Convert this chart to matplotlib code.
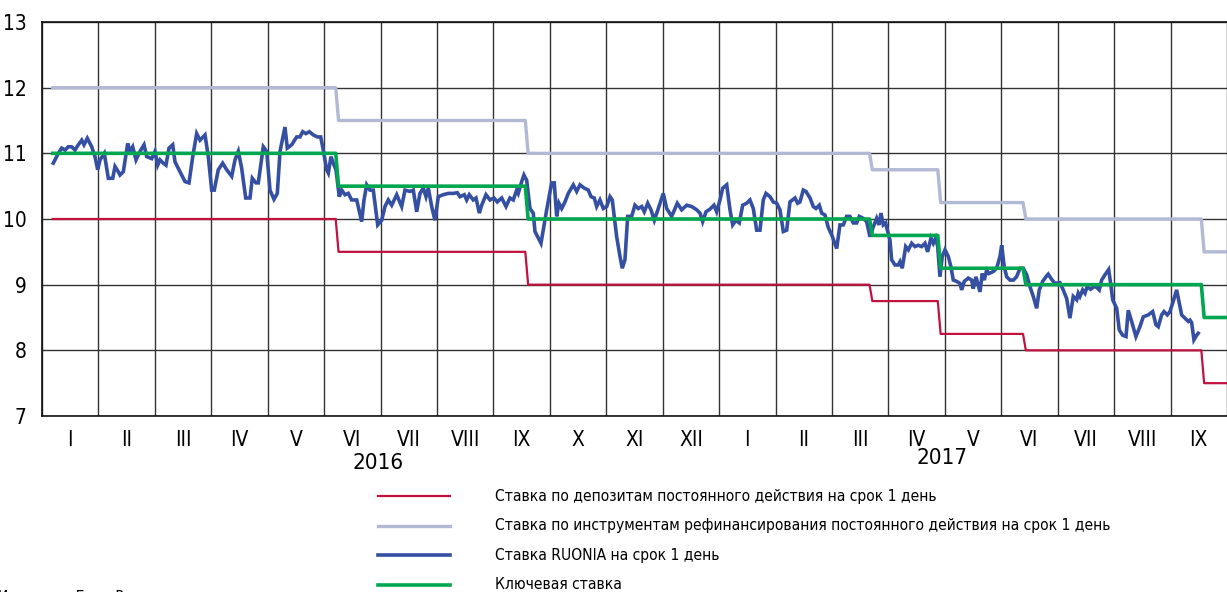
import matplotlib
matplotlib.use('Agg')
import matplotlib.pyplot as plt
from matplotlib.lines import Line2D
import numpy as np

plt.rcParams['font.family'] = ['DejaVu Sans']
plt.rcParams['font.stretch'] = 'condensed'

# x axis: months since 1 Jan 2016 (each month one equal unit)
months = ['I', 'II', 'III', 'IV', 'V', 'VI', 'VII', 'VIII', 'IX', 'X', 'XI', 'XII',
          'I', 'II', 'III', 'IV', 'V', 'VI', 'VII', 'VIII', 'IX']
years = ['2016', '2017']

# policy rate decisions (month position of change) and corridor levels
step_start = 0.19
step_end = 21.0
change_pos = [5.23, 8.59, 14.69, 15.90, 17.41, 20.57]
deposit_rate = [10.0, 9.5, 9.0, 8.75, 8.25, 8.0, 7.5]
refi_rate = [12.0, 11.5, 11.0, 10.75, 10.25, 10.0, 9.5]
key_rate = [11.0, 10.5, 10.0, 9.75, 9.25, 9.0, 8.5]

# RUONIA overnight rate
ruonia_pos = [0.200, 0.289, 0.349, 0.408, 0.466, 0.526, 0.585, 0.643, 0.704, 0.744,
              0.803, 0.881, 0.939, 0.987, 1.028, 1.104, 1.175, 1.253, 1.294, 1.352,
              1.382, 1.441, 1.519, 1.559, 1.607, 1.666, 1.737, 1.808, 1.855, 1.944,
              2.002, 2.050, 2.091, 2.150, 2.197, 2.251, 2.316, 2.357, 2.446, 2.534,
              2.605, 2.671, 2.741, 2.800, 2.889, 2.947, 3.007, 3.053, 3.124, 3.202,
              3.273, 3.362, 3.420, 3.479, 3.539, 3.610, 3.686, 3.727, 3.792, 3.833,
              3.922, 3.982, 4.040, 4.111, 4.170, 4.218, 4.306, 4.347, 4.425, 4.513,
              4.572, 4.620, 4.678, 4.737, 4.808, 4.879, 4.939, 4.985, 5.045, 5.074,
              5.121, 5.162, 5.210, 5.268, 5.311, 5.369, 5.428, 5.488, 5.577, 5.665,
              5.706, 5.754, 5.812, 5.871, 5.949, 6.020, 6.078, 6.137, 6.197, 6.286,
              6.374, 6.433, 6.521, 6.580, 6.640, 6.698, 6.757, 6.805, 6.846, 6.906,
              6.964, 7.023, 7.111, 7.200, 7.289, 7.360, 7.407, 7.484, 7.526, 7.572,
              7.643, 7.691, 7.750, 7.792, 7.868, 7.939, 8.010, 8.068, 8.146, 8.223,
              8.293, 8.352, 8.412, 8.440, 8.501, 8.541, 8.589, 8.648, 8.706, 8.736,
              8.795, 8.843, 8.944, 9.032, 9.078, 9.121, 9.162, 9.210, 9.268, 9.327,
              9.415, 9.475, 9.534, 9.610, 9.681, 9.729, 9.787, 9.830, 9.888, 9.947,
              10.007, 10.066, 10.106, 10.184, 10.243, 10.283, 10.331, 10.379, 10.450, 10.508,
              10.567, 10.627, 10.673, 10.734, 10.792, 10.851, 10.922, 11.010, 11.070, 11.159,
              11.258, 11.336, 11.425, 11.513, 11.602, 11.660, 11.708, 11.767, 11.837, 11.908,
              11.956, 12.015, 12.063, 12.134, 12.192, 12.240, 12.298, 12.357, 12.417, 12.488,
              12.546, 12.605, 12.665, 12.724, 12.782, 12.830, 12.901, 12.959, 13.020, 13.078,
              13.137, 13.197, 13.255, 13.344, 13.392, 13.432, 13.491, 13.539, 13.610, 13.668,
              13.716, 13.775, 13.817, 13.876, 13.934, 13.994, 14.083, 14.141, 14.200, 14.260,
              14.318, 14.377, 14.437, 14.483, 14.554, 14.614, 14.673, 14.731, 14.791, 14.832,
              14.868, 14.909, 14.951, 14.987, 15.027, 15.057, 15.116, 15.174, 15.205, 15.245,
              15.306, 15.352, 15.412, 15.470, 15.529, 15.589, 15.647, 15.695, 15.754, 15.795,
              15.837, 15.873, 15.913, 15.954, 16.002, 16.061, 16.108, 16.149, 16.209, 16.268,
              16.298, 16.344, 16.415, 16.475, 16.504, 16.551, 16.592, 16.622, 16.663, 16.698,
              16.741, 16.782, 16.858, 16.918, 16.977, 17.007, 17.053, 17.096, 17.154, 17.213,
              17.272, 17.331, 17.390, 17.450, 17.508, 17.567, 17.627, 17.673, 17.733, 17.792,
              17.832, 17.893, 17.951, 18.040, 18.098, 18.158, 18.217, 18.275, 18.336, 18.364,
              18.394, 18.442, 18.483, 18.523, 18.584, 18.643, 18.690, 18.736, 18.779, 18.837,
              18.903, 18.938, 18.974, 19.045, 19.091, 19.151, 19.210, 19.250, 19.310, 19.386,
              19.457, 19.516, 19.605, 19.683, 19.741, 19.782, 19.842, 19.883, 19.942, 19.989,
              20.037, 20.108, 20.154, 20.196, 20.255, 20.314, 20.344, 20.374, 20.414, 20.463,
              20.490]
ruonia = [10.85, 11.00, 11.08, 11.05, 11.10, 11.10, 11.05, 11.13, 11.20, 11.13,
          11.23, 11.10, 10.95, 10.75, 10.90, 11.00, 10.62, 10.62, 10.80, 10.72,
          10.67, 10.72, 11.15, 11.03, 11.10, 10.90, 11.03, 11.13, 10.95, 10.92,
          11.03, 10.82, 10.90, 10.85, 10.82, 11.08, 11.13, 10.87, 10.72, 10.57,
          10.55, 10.95, 11.30, 11.20, 11.28, 10.95, 10.44, 10.44, 10.75, 10.85,
          10.75, 10.65, 10.90, 11.03, 10.77, 10.32, 10.32, 10.62, 10.55, 10.55,
          11.10, 11.03, 10.44, 10.30, 10.39, 11.03, 11.40, 11.08, 11.13, 11.25,
          11.25, 11.33, 11.30, 11.33, 11.28, 11.25, 11.25, 11.05, 10.75, 10.70,
          10.95, 10.85, 10.75, 10.34, 10.44, 10.37, 10.39, 10.29, 10.29, 9.96,
          10.29, 10.52, 10.44, 10.44, 9.91, 9.98, 10.19, 10.29, 10.21, 10.37,
          10.19, 10.44, 10.42, 10.44, 10.11, 10.39, 10.47, 10.34, 10.47, 10.19,
          9.98, 10.34, 10.37, 10.39, 10.39, 10.40, 10.34, 10.37, 10.29, 10.37,
          10.29, 10.32, 10.09, 10.21, 10.37, 10.29, 10.32, 10.26, 10.32, 10.19,
          10.32, 10.29, 10.44, 10.39, 10.57, 10.67, 10.59, 10.16, 10.09, 9.81,
          9.71, 9.63, 10.14, 10.55, 10.55, 10.04, 10.24, 10.16, 10.26, 10.39,
          10.52, 10.42, 10.52, 10.47, 10.44, 10.34, 10.32, 10.19, 10.29, 10.16,
          10.19, 10.34, 10.29, 9.73, 9.43, 9.25, 9.38, 10.04, 10.04, 10.21,
          10.16, 10.19, 10.11, 10.24, 10.14, 9.98, 10.16, 10.39, 10.16, 10.04,
          10.24, 10.14, 10.21, 10.19, 10.14, 10.09, 9.96, 10.11, 10.15, 10.21,
          10.11, 10.29, 10.47, 10.52, 10.14, 9.91, 9.98, 9.94, 10.21, 10.24,
          10.29, 10.16, 9.83, 9.83, 10.29, 10.39, 10.34, 10.26, 10.24, 10.14,
          9.81, 9.83, 10.26, 10.32, 10.24, 10.26, 10.44, 10.42, 10.32, 10.19,
          10.16, 10.21, 10.09, 10.06, 9.87, 9.76, 9.55, 9.91, 9.91, 10.04,
          10.04, 9.94, 9.94, 10.04, 10.01, 9.96, 9.73, 9.88, 10.01, 9.91,
          10.09, 9.91, 9.94, 9.81, 9.68, 9.38, 9.30, 9.30, 9.35, 9.25,
          9.58, 9.53, 9.63, 9.58, 9.60, 9.58, 9.63, 9.50, 9.71, 9.63,
          9.71, 9.58, 9.12, 9.43, 9.53, 9.43, 9.27, 9.07, 9.05, 9.02,
          8.92, 9.05, 9.10, 9.07, 8.94, 9.12, 8.99, 8.89, 9.17, 9.07,
          9.22, 9.17, 9.20, 9.25, 9.43, 9.60, 9.27, 9.12, 9.07, 9.07,
          9.12, 9.25, 9.25, 9.15, 8.97, 8.82, 8.64, 8.92, 9.05, 9.12,
          9.16, 9.08, 9.02, 9.03, 8.92, 8.79, 8.49, 8.82, 8.77, 8.87,
          8.82, 8.92, 8.87, 8.97, 8.93, 8.97, 8.96, 8.92, 9.07, 9.15,
          9.23, 9.02, 8.77, 8.64, 8.31, 8.23, 8.21, 8.61, 8.44, 8.21,
          8.36, 8.51, 8.54, 8.59, 8.39, 8.36, 8.54, 8.59, 8.54, 8.59,
          8.72, 8.92, 8.72, 8.54, 8.49, 8.44, 8.46, 8.42, 8.16, 8.23,
          8.26]

labels = ['Ставка по депозитам постоянного действия на срок 1 день',
          'Ставка по инструментам рефинансирования постоянного действия на срок 1 день',
          'Ставка RUONIA на срок 1 день',
          'Ключевая ставка']
colors = ['#C0113F', '#B1B9D5', '#3550A2', '#00A650']
widths = [1.6, 2.4, 2.6, 2.6]


def step_line(levels, ramp=0.025):
    xs, ys = [step_start], [levels[0]]
    for c, a, b in zip(change_pos, levels[:-1], levels[1:]):
        xs += [c - ramp, c + ramp]
        ys += [a, b]
    xs.append(step_end)
    ys.append(levels[-1])
    return xs, ys


fig = plt.figure(figsize=(12.27, 5.92), dpi=100)
ax = fig.add_axes([42 / 1227, 1 - 416 / 592, 1 - 42 / 1227, (416 - 22) / 592])

ax.plot(*step_line(deposit_rate), color=colors[0], lw=widths[0], zorder=3)
ax.plot(*step_line(refi_rate), color=colors[1], lw=widths[1], zorder=3)
ax.plot(ruonia_pos, ruonia, color=colors[2], lw=widths[2], zorder=4, solid_joinstyle='miter')
ax.plot(*step_line(key_rate), color=colors[3], lw=widths[3], zorder=5)

ax.set_xlim(0, 21)
ax.set_ylim(7, 13)
ax.set_xticks(np.arange(0, 22))
ax.set_xticklabels([])
ax.set_xticks(np.arange(21) + 0.5, minor=True)
ax.set_xticklabels(months, minor=True)
ax.set_yticks(np.arange(7, 14))
ax.tick_params(axis='both', which='both', length=0)
ax.tick_params(axis='x', which='minor', pad=10, labelsize=15)
ax.tick_params(axis='y', pad=11, labelsize=15)
ax.grid(True, which='major', color='#333333', lw=1.0, zorder=1)
ax.set_axisbelow(True)
for s in ['left', 'bottom', 'top']:
    ax.spines[s].set_color('#111111')
    ax.spines[s].set_linewidth(1.2)
ax.spines['right'].set_visible(False)

tr = ax.get_xaxis_transform()
ax.text(5.95, -0.119, years[0], transform=tr, ha='center', va='center', fontsize=16)
ax.text(15.95, -0.107, years[1], transform=tr, ha='center', va='center', fontsize=16)

# legend
for i, (lab, c, w) in enumerate(zip(labels, colors, widths)):
    yc = 1 - (496 + i * 29.6) / 592
    fig.add_artist(Line2D([378 / 1227, 450 / 1227], [yc, yc], color=c, lw=w))
    fig.text(495 / 1227, yc, lab, ha='left', va='center', fontsize=11.2)

fig.text(-2 / 1227, 1 - 590 / 592, 'Источник: Банк России.', ha='left', va='top', fontsize=11)

fig.savefig('out.png', dpi=100)
plt.close(fig)
